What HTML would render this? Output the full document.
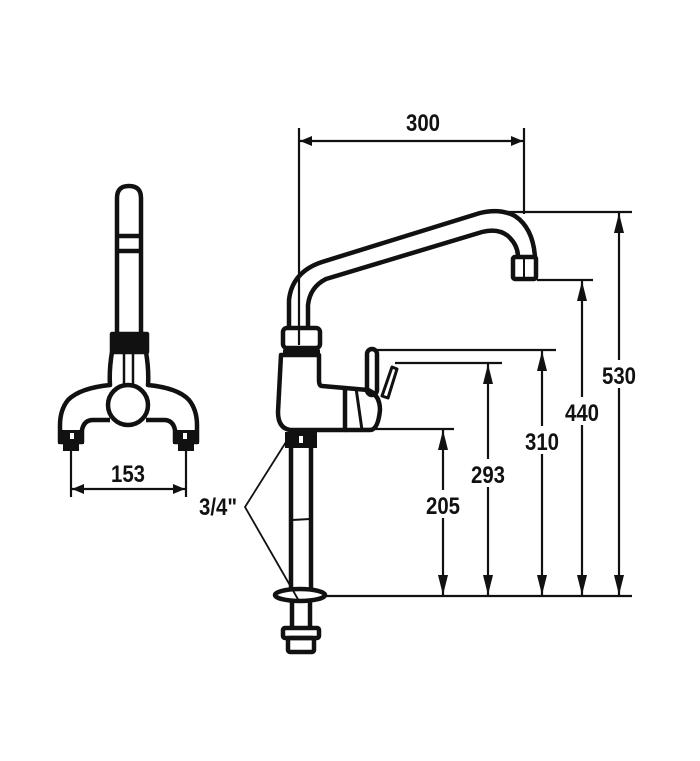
<!DOCTYPE html>
<html><head><meta charset="utf-8"><style>
html,body{margin:0;padding:0;background:#fff;}
svg{display:block;}
text{font-family:"Liberation Sans",sans-serif;font-weight:bold;font-size:24px;fill:#111;}
</style></head><body>
<svg width="700" height="761" viewBox="0 0 700 761" xmlns="http://www.w3.org/2000/svg">
<defs>
<marker id="a" viewBox="0 0 10 10" refX="10" refY="5" markerWidth="12" markerHeight="10" markerUnits="userSpaceOnUse" orient="auto-start-reverse" preserveAspectRatio="none">
<path d="M0,0 L10,5 L0,10 z" fill="#111"/></marker>
<marker id="b" viewBox="0 0 16 10" refX="16" refY="5" markerWidth="20" markerHeight="10" markerUnits="userSpaceOnUse" orient="auto-start-reverse" preserveAspectRatio="none">
<path d="M0,0 L16,5 L0,10 z" fill="#111"/></marker>
</defs>
<g stroke="#111" fill="none" stroke-width="2.2">
<line x1="299" y1="128" x2="299" y2="345"/>
<line x1="524" y1="128" x2="524" y2="214"/>
<line x1="300" y1="141" x2="523" y2="141" marker-start="url(#a)" marker-end="url(#a)"/>
<line x1="322" y1="596" x2="632" y2="596"/>
<line x1="360" y1="429" x2="454" y2="429"/>
<line x1="395" y1="363" x2="502" y2="363"/>
<line x1="372" y1="350" x2="556" y2="350"/>
<line x1="537" y1="280" x2="593" y2="280"/>
<line x1="488" y1="212" x2="632" y2="212"/>
<line x1="443" y1="430" x2="443" y2="595" marker-start="url(#b)" marker-end="url(#b)"/>
<line x1="488" y1="364" x2="488" y2="595" marker-start="url(#b)" marker-end="url(#b)"/>
<line x1="542" y1="351" x2="542" y2="595" marker-start="url(#b)" marker-end="url(#b)"/>
<line x1="582" y1="281" x2="582" y2="595" marker-start="url(#b)" marker-end="url(#b)"/>
<line x1="619" y1="213" x2="619" y2="595" marker-start="url(#b)" marker-end="url(#b)"/>
<line x1="71" y1="445" x2="71" y2="497"/>
<line x1="186" y1="445" x2="186" y2="497"/>
<line x1="72" y1="489" x2="185" y2="489" marker-start="url(#a)" marker-end="url(#a)"/>
<polyline points="286,442 245,507 299,601" stroke-width="1.8"/>
</g>
<g fill="#fff">
<rect x="425" y="490" width="36" height="28"/>
<rect x="470" y="459" width="36" height="28"/>
<rect x="524" y="426" width="36" height="28"/>
<rect x="564" y="397" width="36" height="28"/>
<rect x="601" y="360" width="36" height="28"/>
</g>
<text x="426" y="514" textLength="34" lengthAdjust="spacingAndGlyphs">205</text>
<text x="471" y="483" textLength="34" lengthAdjust="spacingAndGlyphs">293</text>
<text x="525" y="450" textLength="34" lengthAdjust="spacingAndGlyphs">310</text>
<text x="565" y="421" textLength="34" lengthAdjust="spacingAndGlyphs">440</text>
<text x="602" y="384" textLength="34" lengthAdjust="spacingAndGlyphs">530</text>
<text x="406" y="131" textLength="34" lengthAdjust="spacingAndGlyphs">300</text>
<text x="111" y="482" textLength="34" lengthAdjust="spacingAndGlyphs">153</text>
<text x="199" y="515" textLength="38" lengthAdjust="spacingAndGlyphs">3/4"</text>

<g stroke="#111" fill="none" stroke-width="4.5" stroke-linejoin="round">
<path d="M289,328 L289,300 Q292,272 322,262 L480,213 Q500,208 515,216 Q533,228 535,257"/>
<path d="M308,328 L308,305 Q310,287 326,279 L482,232 Q498,228 508,236 Q518,245 518,257"/>
<rect x="513" y="257" width="23" height="22" rx="2"/>
<line x1="524" y1="257" x2="524" y2="279" stroke-width="2"/>
<rect x="283" y="328" width="37" height="20" rx="4"/>
<line x1="283" y1="352" x2="320" y2="352" stroke-width="5"/>
<path d="M281,355 L278,412 Q278,428 290,430 L345,430 L345,388 L322,386 Q319,386 319,380 L319,355 Z"/>
<path d="M345,388 L368,390 Q380,395 380,410 Q378,430 370,430 L345,430"/>
<line x1="356" y1="388" x2="362" y2="430" stroke-width="3"/>
<rect x="367" y="349" width="10" height="46" rx="5"/>
<path d="M382,396 L392,367 L397,369 L388,398 Z" stroke-width="3"/>
<line x1="291" y1="447" x2="291" y2="590"/>
<line x1="311" y1="447" x2="311" y2="590"/>
<line x1="292" y1="520" x2="310" y2="519" stroke-width="2"/>
<ellipse cx="300" cy="595" rx="25" ry="6"/>
<line x1="292" y1="601" x2="292" y2="628"/>
<line x1="310" y1="601" x2="310" y2="628"/>
<rect x="283" y="628" width="36" height="10" rx="2"/>
<rect x="288" y="638" width="26" height="14" rx="2"/>
</g>
<rect x="285" y="432" width="32" height="16" fill="#111"/>
<rect x="299" y="436" width="4" height="7" fill="#fff"/>

<g stroke="#111" fill="none" stroke-width="4.5" stroke-linejoin="round">
<path d="M117,333 L117,198 Q117,186 129,186 Q141,186 141,198 L141,333"/>
<line x1="117" y1="236" x2="141" y2="236"/>
<line x1="117" y1="251" x2="141" y2="251"/>
<rect x="112" y="334" width="35" height="18" fill="#111"/>
<path d="M112,352 Q109,370 110,385 Q80,388 68,400 Q60,410 60,425 L60,442 L82,442 L82,430 Q84,420 93,420 L110,420"/>
<path d="M146,352 Q149,370 148,385 Q178,388 189,400 Q197,410 197,425 L197,442 L175,442 L175,430 Q173,420 164,420 L146,420"/>
<line x1="124" y1="352" x2="124" y2="385" stroke-width="2.5"/>
<line x1="133" y1="352" x2="133" y2="385" stroke-width="2.5"/>
<circle cx="128" cy="405" r="20" fill="#fff"/>
</g>
<rect x="58" y="430" width="26" height="14" fill="#111"/>
<rect x="173" y="430" width="26" height="14" fill="#111"/>
<rect x="70" y="433" width="4" height="6" fill="#fff"/>
<rect x="183" y="433" width="4" height="6" fill="#fff"/>
<rect x="63" y="444" width="16" height="7" fill="#111"/>
<rect x="178" y="444" width="16" height="7" fill="#111"/>
</svg>
</body></html>
